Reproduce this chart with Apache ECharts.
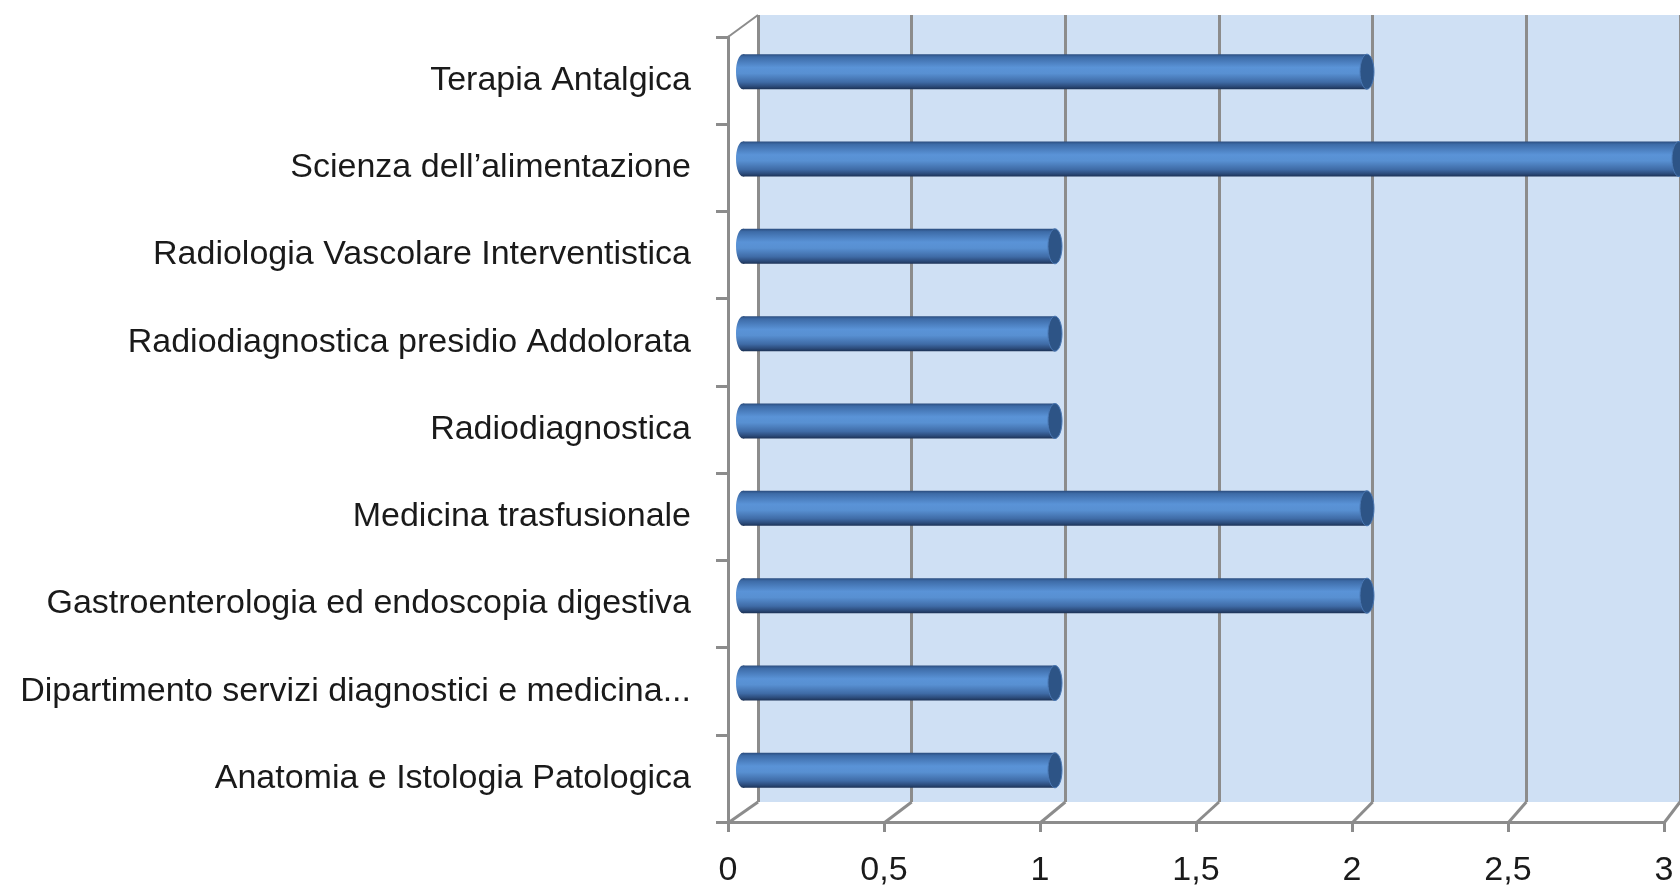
<!DOCTYPE html>
<html>
<head>
<meta charset="utf-8">
<script src="https://cdn.jsdelivr.net/npm/echarts@6/dist/echarts.min.js"></script>
<style>
  html, body { margin: 0; padding: 0; background: #fff; }
  #chart { width: 1680px; height: 888px; }
</style>
</head>
<body>
<div id="chart"></div>
<script>
// categories listed bottom to top (as the value axis draws them)
var categories = [
  'Anatomia e Istologia Patologica',
  'Dipartimento servizi diagnostici e medicina...',
  'Gastroenterologia ed endoscopia digestiva',
  'Medicina trasfusionale',
  'Radiodiagnostica',
  'Radiodiagnostica presidio Addolorata',
  'Radiologia Vascolare Interventistica',
  'Scienza dell\u2019alimentazione',
  'Terapia Antalgica'
];
var values = [1, 1, 2, 2, 1, 1, 1, 3, 2];
var tickLabels = ['0', '0,5', '1', '1,5', '2', '2,5', '3'];

var AX = '#8c8c8c';
var FONT = 'Liberation Sans';

function run() {
  var chart = echarts.init(document.getElementById('chart'));

  var barGrad = new echarts.graphic.LinearGradient(0, 0, 0, 1, [
    { offset: 0, color: '#2b4d7e' },
    { offset: 0.08, color: '#3d6ba7' },
    { offset: 0.38, color: '#5a93d7' },
    { offset: 0.55, color: '#5890d2' },
    { offset: 0.8, color: '#3f6ba6' },
    { offset: 0.92, color: '#2c4c7b' },
    { offset: 1, color: '#1c3256' }
  ]);

  var option = {
    animation: false,
    grid: [
      // back wall
      { left: 758, top: 15, width: 936, height: 787, backgroundColor: '#cfe0f4', show: true, borderWidth: 0 },
      // front axes
      { left: 728, top: 37, width: 936, height: 786 },
      // bars, mid depth
      { left: 743, top: 28, width: 936, height: 786 }
    ],
    xAxis: [
      { gridIndex: 0, type: 'value', min: 0, max: 3, interval: 0.5,
        axisLine: { show: false }, axisTick: { show: false }, axisLabel: { show: false },
        splitLine: { show: true, lineStyle: { color: AX, width: 3 } } },
      { gridIndex: 1, type: 'value', min: 0, max: 3, interval: 0.5,
        axisLine: { show: true, lineStyle: { color: AX, width: 3 } },
        axisTick: { show: true, length: 10, lineStyle: { color: AX, width: 3 } },
        splitLine: { show: false },
        axisLabel: { margin: 32, fontFamily: FONT, fontSize: 34, color: '#1a1a1a',
          formatter: function (v) { return tickLabels[Math.round(v * 2)]; } } },
      { gridIndex: 2, type: 'value', min: 0, max: 3, show: false }
    ],
    yAxis: [
      { gridIndex: 0, type: 'category', data: categories, show: false },
      { gridIndex: 1, type: 'category', data: categories,
        axisLine: { show: true, lineStyle: { color: AX, width: 3 } },
        axisTick: { show: true, length: 12, lineStyle: { color: AX, width: 3 } },
        axisLabel: { margin: 37, fontFamily: FONT, fontSize: 34, color: '#1a1a1a' } },
      { gridIndex: 2, type: 'category', data: categories, show: false }
    ],
    series: [{
      type: 'custom',
      xAxisIndex: 2,
      yAxisIndex: 2,
      clip: false,
      data: values.map(function (v, i) { return [v, i]; }),
      renderItem: function (params, api) {
        var end = api.coord([api.value(0), api.value(1)]);
        var start = api.coord([0, api.value(1)]);
        var h = 35;
        var rx = 7;
        return {
          type: 'group',
          children: [
            { type: 'ellipse', shape: { cx: start[0], cy: start[1], rx: rx, ry: h / 2 },
              style: { fill: barGrad } },
            { type: 'rect', shape: { x: start[0], y: end[1] - h / 2, width: end[0] - start[0], height: h },
              style: { fill: barGrad } },
            { type: 'ellipse', shape: { cx: end[0], cy: end[1], rx: rx, ry: h / 2 },
              style: { fill: '#2d5486', stroke: '#4a78b4', lineWidth: 1 } }
          ]
        };
      }
    }]
  };
  chart.setOption(option);

  // depth connectors between the front axis and the back wall
  var lines = [];
  for (var k = 0; k < tickLabels.length; k++) {
    var fx = chart.convertToPixel({ xAxisIndex: 1 }, k * 0.5);
    var bx = chart.convertToPixel({ xAxisIndex: 0 }, k * 0.5);
    lines.push({ type: 'line', shape: { x1: fx, y1: 823, x2: bx, y2: 802 },
      style: { stroke: AX, lineWidth: 3 }, z: 10 });
  }
  lines.push({ type: 'line', shape: { x1: 728, y1: 37, x2: 758, y2: 15 },
    style: { stroke: AX, lineWidth: 2 }, z: 10 });
  lines.push({ type: 'line', shape: { x1: 758, y1: 15, x2: 758, y2: 802 },
    style: { stroke: AX, lineWidth: 1 }, z: 1 });
  chart.setOption({ graphic: lines });
}

if (document.readyState !== 'loading') {
  run();
} else {
  document.addEventListener('DOMContentLoaded', run);
}
</script>
</body>
</html>
